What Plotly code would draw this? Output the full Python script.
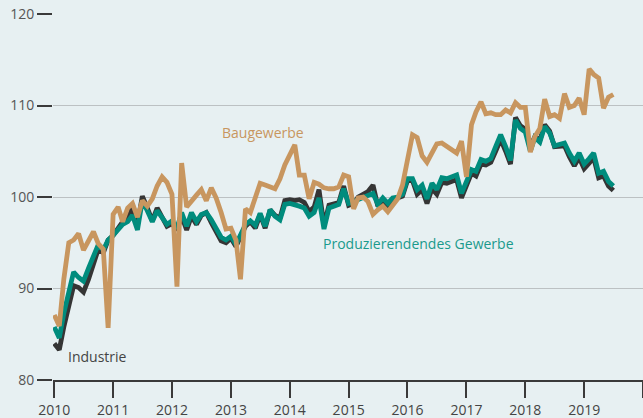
import pandas as pd
import plotly.graph_objects as go

# Monatswerte Jan 2010 - Jul 2019 (Index, 2015 = 100)
monate = pd.date_range("2010-01-01", periods=115, freq="MS")

baugewerbe = [
    87.1, 85.9, 91.0, 95.0, 95.3, 96.0, 94.2, 95.2, 96.2, 94.9, 94.3, 85.7,         # 2010
    98.1, 98.9, 97.3, 98.8, 99.3, 97.8, 99.6, 99.0, 99.8, 101.2, 102.2, 101.6,      # 2011
    100.3, 90.2, 103.7, 98.9, 99.6, 100.2, 100.8, 99.6, 101.0, 99.9, 98.3, 96.5,    # 2012
    96.6, 95.3, 91.0, 98.7, 98.3, 100.0, 101.5, 101.3, 101.1, 100.9, 102.0, 103.5,  # 2013
    104.6, 105.7, 102.4, 102.4, 99.8, 101.6, 101.4, 101.0, 100.9, 100.9, 101.1, 102.4,  # 2014
    102.2, 98.7, 99.9, 100.0, 99.5, 98.1, 98.6, 99.0, 98.4, 99.0, 99.8, 101.3,      # 2015
    104.4, 106.8, 106.5, 104.5, 103.8, 104.9, 105.8, 105.9, 105.5, 105.1, 104.8, 106.1,  # 2016
    102.2, 107.9, 109.3, 110.4, 109.1, 109.2, 109.0, 109.0, 109.5, 109.2, 110.3, 109.8,  # 2017
    109.8, 104.9, 106.6, 107.5, 110.7, 108.8, 109.0, 108.6, 111.3, 109.8, 110.0, 110.8,  # 2018
    109.0, 114.0, 113.4, 113.0, 109.7, 110.9, 111.2,                                # 2019
]

produzierendes = [
    85.8, 84.6, 87.3, 89.6, 91.8, 91.2, 90.8, 92.2, 93.5, 94.8, 94.2, 95.3,
    95.8, 96.5, 97.0, 97.3, 98.0, 96.4, 99.6, 98.5, 97.3, 98.5, 97.7, 97.0,
    97.4, 96.6, 98.3, 96.8, 98.3, 97.3, 98.1, 98.3, 97.5, 96.6, 95.6, 95.3,
    95.7, 94.8, 96.0, 97.0, 97.4, 96.9, 98.2, 96.8, 98.6, 97.9, 97.5, 99.2,
    99.3, 99.2, 99.0, 98.8, 97.9, 98.3, 99.9, 96.5, 98.8, 99.0, 99.2, 100.9,
    99.3, 99.5, 99.7, 99.9, 100.1, 100.4, 99.2, 99.9, 99.3, 99.9, 100.0, 100.3,
    102.0, 102.0, 100.8, 101.3, 99.8, 101.5, 100.8, 102.1, 102.0, 102.2, 102.4, 100.4,
    101.8, 103.0, 102.8, 104.1, 103.9, 104.2, 105.5, 106.8, 105.5, 104.0, 108.4, 107.5,
    107.1, 105.0, 106.5, 106.0, 107.7, 107.0, 105.6, 105.8, 105.9, 104.8, 103.9, 104.8,
    103.6, 104.2, 104.8, 102.6, 102.8, 101.7, 101.2,
]

industrie = [
    84.0, 83.3, 85.8, 88.0, 90.3, 90.1, 89.6, 91.0, 92.6, 94.3, 93.9, 95.3,
    95.8, 96.6, 97.3, 97.6, 98.8, 97.0, 100.1, 98.8, 97.4, 98.8, 97.7, 96.8,
    97.1, 96.4, 97.9, 96.4, 97.9, 97.0, 98.0, 98.3, 97.2, 96.2, 95.2, 95.0,
    95.5, 94.6, 95.8, 96.8, 97.3, 96.6, 98.1, 96.6, 98.6, 98.0, 97.7, 99.6,
    99.7, 99.6, 99.7, 99.4, 98.4, 98.9, 100.8, 96.9, 99.1, 99.3, 99.4, 101.2,
    99.1, 99.3, 100.0, 100.3, 100.6, 101.3, 99.0, 99.7, 99.0, 99.7, 99.9, 100.1,
    101.8, 101.8, 100.3, 100.8, 99.3, 100.9, 100.3, 101.6, 101.5, 101.7, 101.9, 99.9,
    101.3, 102.6, 102.3, 103.6, 103.5, 103.8, 105.0, 106.3, 105.0, 103.6, 108.7, 107.8,
    107.4, 105.5, 106.6, 106.2, 107.9, 107.2, 105.5, 105.6, 105.6, 104.4, 103.4, 104.3,
    103.1, 103.7, 104.3, 102.1, 102.3, 101.2, 100.7,
]

jahre = [str(j) for j in range(2010, 2021)]
jahr_labels = [str(j) for j in range(2010, 2020)] + [""]
y_ticks = [80, 90, 100, 110, 120]

TAN = "#c8965f"
TEAL = "#008c7d"
DARK = "#353535"
BG = "#e7f0f2"

fig = go.Figure()
fig.add_trace(go.Scatter(x=monate, y=industrie, mode="lines", name="Industrie",
                         line=dict(color=DARK, width=4.8)))
fig.add_trace(go.Scatter(x=monate, y=produzierendes, mode="lines", name="Produzierendes Gewerbe",
                         line=dict(color=TEAL, width=4.8)))
fig.add_trace(go.Scatter(x=monate, y=baugewerbe, mode="lines", name="Baugewerbe",
                         line=dict(color=TAN, width=4.8)))

# Beschriftungen direkt an den Linien
fig.add_annotation(x="2013-07-20", y=107.1, text="Baugewerbe", showarrow=False,
                   font=dict(color=TAN, size=14))
fig.add_annotation(x="2016-03-10", y=94.9, text="Produzierendendes Gewerbe", showarrow=False,
                   font=dict(color="#1a9a8c", size=14))
fig.add_annotation(x="2010-09-25", y=82.6, text="Industrie", showarrow=False,
                   font=dict(color="#444444", size=14))

fig.update_xaxes(
    range=["2009-12-24", "2020-01-01"],
    tickvals=[f"{j}-01-01" for j in jahre],
    ticktext=jahr_labels,
    ticks="outside", ticklen=16, tickwidth=1.5, tickcolor="#3a3a3a",
    showline=True, linecolor="#3a3a3a", linewidth=1.5,
    showgrid=False, zeroline=False,
    tickfont=dict(size=14, color="#444444"),
)
fig.update_yaxes(
    range=[80, 120],
    tickvals=y_ticks,
    ticks="outside", ticklen=15, tickwidth=1.5, tickcolor="#3a3a3a",
    showgrid=True, gridcolor="#bcc1c3", gridwidth=1.3,
    zeroline=False, showline=False,
    tickfont=dict(size=14, color="#555555"),
)

fig.update_layout(
    width=643, height=418,
    plot_bgcolor=BG, paper_bgcolor=BG,
    font=dict(family="Open Sans, sans-serif", size=14),
    margin=dict(t=14, b=38, l=53, r=0),
    showlegend=False,
)

fig.write_html("out.html", config={"displayModeBar": False},
               post_script="document.body.style.margin='0';")
